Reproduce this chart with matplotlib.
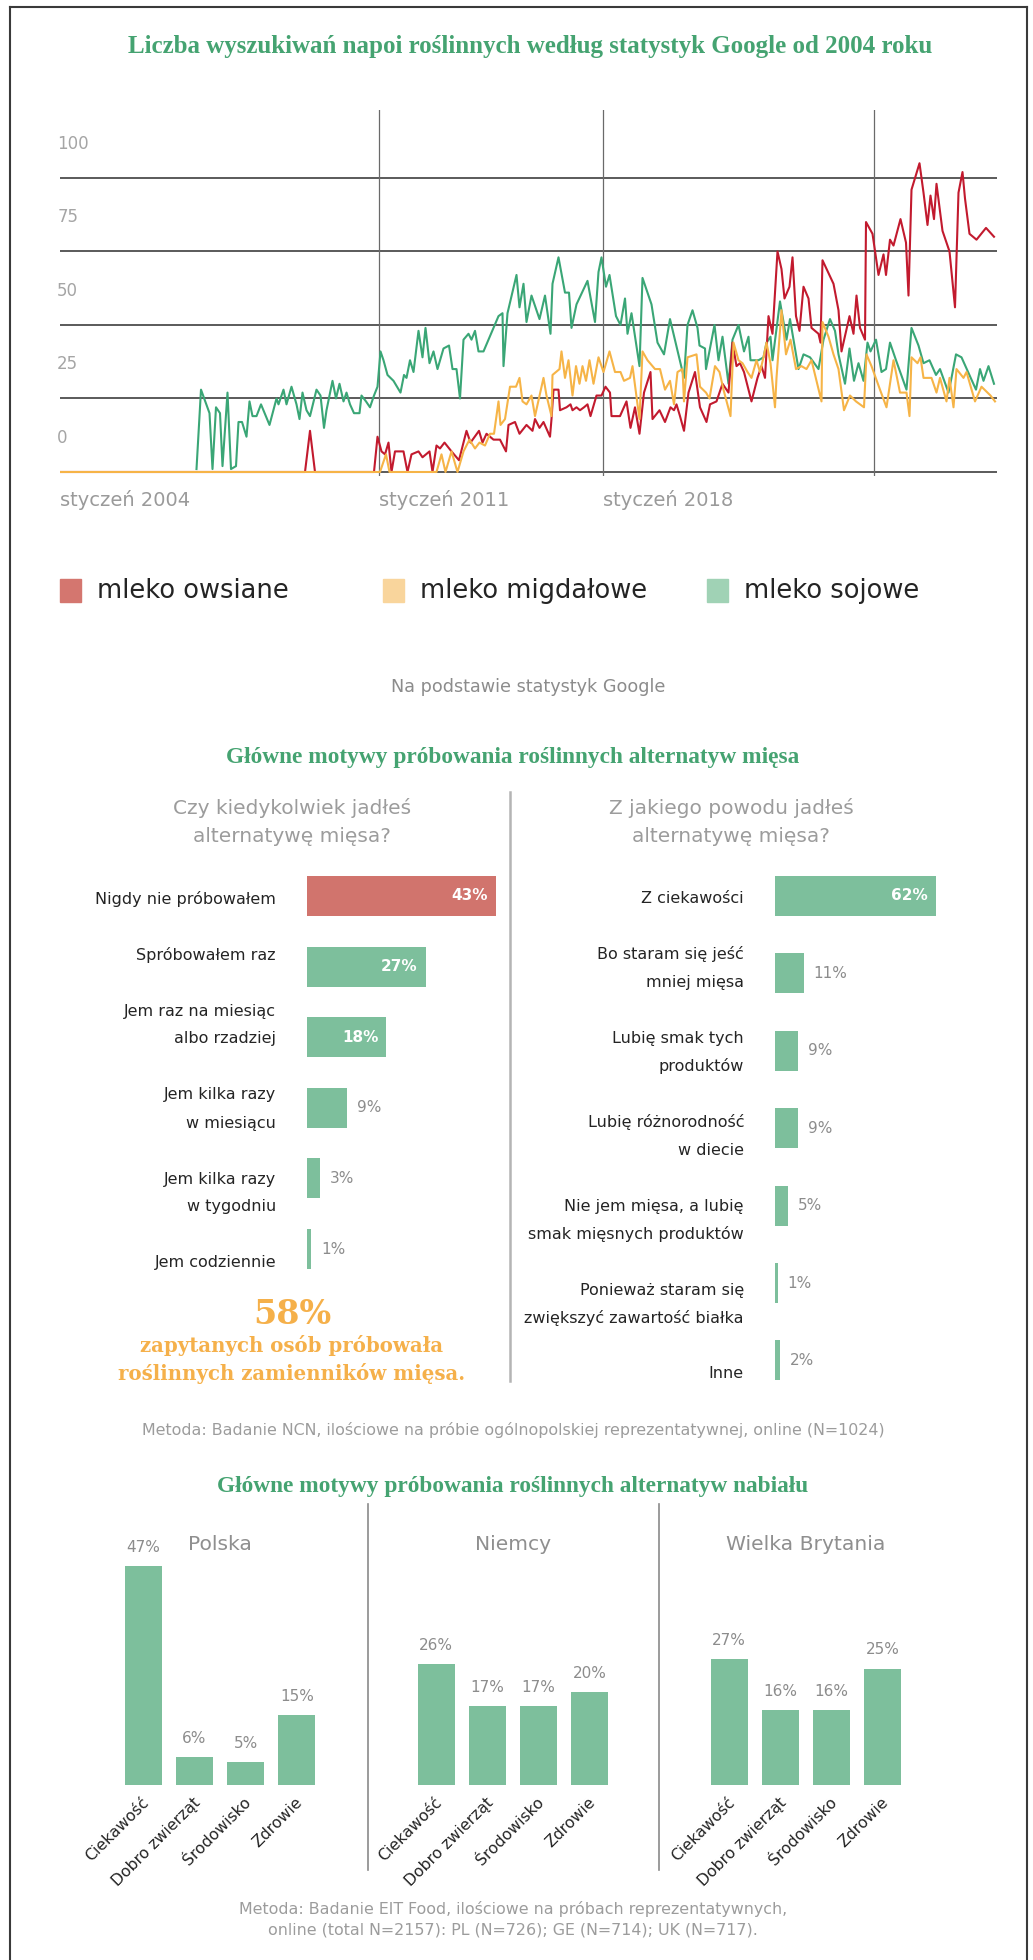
import matplotlib
matplotlib.use('Agg')
import matplotlib.pyplot as plt
from matplotlib.lines import Line2D
from matplotlib.patches import Rectangle
from matplotlib.transforms import ScaledTranslation, blended_transform_factory

# --- search trends (position along the time axis, search index) ---
green_t = [27.3, 28.2, 29.9, 30.5, 31.2, 32.0, 32.5, 33.5, 34.2, 35.2,
           35.7, 36.4, 37.3, 37.9, 38.5, 39.3, 40.2, 41.9, 43.0, 43.3,
           43.7, 44.7, 45.3, 46.3, 47.3, 47.9, 48.5, 49.3, 50.0, 51.3,
           52.1, 52.8, 53.3, 54.5, 55.2, 55.9, 56.7, 57.3, 58.0, 58.8,
           59.9, 60.3, 61.2, 62.0, 62.8, 63.5, 64.1, 64.7, 65.5, 66.7,
           68.1, 68.8, 69.3, 70.0, 70.7, 71.7, 72.5, 73.1, 73.9, 74.7,
           75.5, 76.7, 77.8, 78.5, 79.3, 80.0, 80.7, 81.7, 82.3, 83.0,
           83.7, 84.7, 87.7, 88.5, 88.7, 89.5, 91.3, 91.9, 92.7, 93.3,
           94.3, 95.3, 95.9, 97.0, 98.1, 98.5, 99.7, 101.0, 101.8, 102.3,
           103.3, 105.5, 107.0, 107.7, 108.3, 109.2, 109.9, 111.2, 112.1, 113.0,
           113.5, 114.3, 115.9, 116.5, 118.3, 119.5, 120.8, 122.0, 124.8, 125.5,
           126.5, 127.5, 127.9, 129.0, 129.2, 130.9, 131.7, 132.5, 133.7, 134.5,
           135.7, 136.8, 137.7, 138.1, 139.7, 140.7, 141.3, 142.1, 142.5, 144.0,
           145.3, 146.0, 146.7, 147.7, 148.7, 150.0, 151.7, 152.7, 154.0, 155.0,
           155.7, 157.0, 157.9, 158.8, 159.7, 160.7, 161.5, 162.1, 163.2, 164.3,
           165.2, 166.0, 167.2, 169.3, 170.3, 171.7, 172.7, 173.9, 175.2, 176.0,
           177.7, 178.3, 179.2, 180.3, 183.2, 184.0, 184.7, 185.7, 186.8]
green_v = [1, 28, 20, 1, 22, 20, 2, 27, 1, 2,
           17, 17, 12, 24, 19, 19, 23, 16, 23, 25,
           23, 28, 23, 29, 23, 18, 27, 21, 19, 28,
           26, 15, 21, 31, 25, 30, 24, 27, 23, 20,
           20, 26, 24, 22, 26, 29, 41, 38, 33, 31,
           27, 33, 32, 38, 34, 48, 39, 49, 37, 41,
           35, 42, 43, 35, 35, 25, 45, 47, 45, 48,
           41, 41, 53, 54, 36, 54, 67, 56, 64, 51,
           60, 55, 52, 60, 47, 64, 73, 61, 61, 49,
           57, 65, 51, 68, 73, 63, 67, 53, 50, 59,
           47, 54, 36, 66, 57, 44, 40, 52, 32, 50,
           55, 49, 43, 42, 35, 50, 38, 46, 30, 45,
           50, 41, 46, 38, 38, 39, 44, 46, 38, 58,
           45, 52, 45, 35, 40, 39, 35, 45, 52, 48,
           40, 30, 42, 31, 37, 31, 44, 41, 45, 34,
           35, 44, 38, 28, 49, 43, 37, 38, 33, 35,
           27, 32, 40, 39, 28, 35, 31, 36, 30]

red_t = [0, 49.0, 50.0, 51.0, 62.8, 63.5, 64.3, 65.0, 65.7, 66.3,
         67.0, 68.7, 69.5, 70.3, 71.7, 72.5, 73.9, 74.5, 75.3, 76.0,
         76.9, 78.3, 79.8, 81.3, 82.1, 83.8, 84.5, 85.3, 86.7, 88.0,
         89.2, 89.7, 91.0, 91.9, 93.3, 94.5, 95.0, 95.9, 96.7, 98.0,
         98.3, 98.7, 99.7, 100.0, 101.3, 102.1, 102.5, 103.3, 104.0, 104.8,
         105.5, 106.1, 107.3, 108.3, 109.1, 110.0, 110.3, 112.0, 113.3, 114.1,
         115.0, 115.9, 116.8, 118.1, 118.5, 119.9, 121.0, 122.1, 122.8, 123.3,
         124.0, 124.8, 125.7, 127.0, 128.0, 129.3, 130.0, 131.3, 132.5, 133.7,
         134.5, 135.3, 136.0, 136.8, 138.3, 139.5, 140.3, 141.0, 141.7, 142.5,
         143.5, 144.3, 144.9, 145.9, 146.5, 147.2, 147.9, 148.7, 149.7, 150.3,
         151.7, 152.1, 152.5, 154.7, 155.7, 156.3, 157.9, 158.7, 159.3, 160.0,
         161.0, 161.2, 162.5, 163.7, 164.7, 165.2, 166.0, 166.7, 168.1, 169.2,
         169.7, 170.3, 171.9, 172.7, 173.5, 174.1, 174.8, 175.3, 176.5, 177.9,
         179.0, 179.7, 180.5, 181.0, 181.9, 183.3, 185.2, 186.8]
red_v = [0, 0, 14, 0, 0, 12, 7, 6, 10, 0,
         7, 7, 0, 6, 7, 5, 7, 0, 9, 8,
         10, 7, 4, 14, 10, 14, 10, 13, 11, 11,
         7, 16, 17, 13, 16, 14, 18, 15, 17, 12,
         18, 28, 28, 21, 22, 23, 21, 22, 21, 22,
         23, 19, 26, 26, 29, 27, 19, 19, 24, 15,
         22, 13, 27, 34, 18, 21, 17, 22, 21, 23,
         19, 14, 27, 34, 22, 17, 23, 24, 30, 27,
         44, 36, 37, 34, 24, 32, 36, 32, 53, 47,
         75, 69, 59, 63, 73, 53, 48, 63, 59, 49,
         47, 44, 72, 64, 55, 41, 53, 47, 60, 49,
         45, 85, 81, 67, 74, 67, 79, 77, 86, 78,
         60, 96, 105, 95, 84, 94, 86, 98, 82, 75,
         56, 95, 102, 93, 81, 79, 83, 80]

orange_t = [0, 64.0, 65.2, 65.9, 75.3, 76.3, 77.1, 78.3, 79.5, 80.7,
            81.9, 83.0, 83.9, 85.0, 86.0, 86.8, 87.7, 88.1, 89.0, 90.0,
            91.2, 91.9, 92.5, 93.3, 94.3, 95.0, 96.7, 97.3, 98.3, 98.5,
            99.9, 100.3, 101.0, 101.7, 102.5, 103.2, 103.9, 104.5, 105.2, 105.9,
            106.7, 107.7, 108.7, 109.9, 111.0, 112.1, 112.8, 114.0, 114.5, 115.5,
            115.9, 116.5, 117.5, 119.0, 120.0, 121.0, 122.0, 122.8, 123.5, 124.5,
            124.8, 125.5, 127.3, 128.0, 129.2, 129.9, 131.0, 131.9, 132.7, 134.1,
            134.7, 135.7, 136.5, 137.5, 138.3, 139.3, 140.0, 140.7, 141.3, 142.1,
            143.0, 143.3, 144.3, 145.2, 146.1, 147.2, 148.3, 149.3, 150.3, 152.3,
            152.5, 153.7, 154.7, 155.7, 156.8, 158.0, 159.2, 160.8, 161.3, 162.3,
            164.0, 165.3, 166.7, 168.0, 169.3, 169.9, 170.3, 171.5, 172.1, 172.7,
            174.3, 175.3, 176.0, 177.3, 177.9, 178.7, 179.3, 180.7, 181.3, 183.0,
            184.3, 186.1, 187.0]
orange_v = [0, 0, 6, 0, 0, 6, 0, 7, 0, 7,
            11, 8, 10, 9, 13, 13, 24, 16, 18, 29,
            29, 32, 24, 23, 26, 19, 32, 26, 19, 33,
            35, 41, 32, 38, 26, 36, 30, 36, 31, 38,
            30, 39, 34, 41, 34, 34, 31, 32, 36, 23,
            18, 41, 38, 35, 35, 28, 31, 23, 34, 35,
            24, 39, 40, 29, 27, 25, 36, 34, 28, 19,
            44, 38, 37, 34, 32, 38, 34, 39, 44, 37,
            22, 32, 55, 40, 45, 35, 36, 35, 38, 24,
            51, 46, 40, 35, 21, 26, 24, 22, 40, 36,
            28, 22, 38, 27, 27, 19, 39, 37, 39, 32,
            32, 27, 32, 24, 32, 22, 35, 32, 34, 24,
            29, 26, 24]

y_ticks = [0, 25, 50, 75, 100]
x_ticks = [0, 63.8, 108.6, 162.8]
x_labels = ["styczeń 2004", "styczeń 2011", "styczeń 2018", ""]
legend_labels = ["mleko owsiane", "mleko migdałowe", "mleko sojowe"]

# --- meat alternatives survey ---
tried_labels = ["Nigdy nie próbowałem", "Spróbowałem raz",
                "Jem raz na miesiąc\nalbo rzadziej", "Jem kilka razy\nw miesiącu",
                "Jem kilka razy\nw tygodniu", "Jem codziennie"]
tried_vals = [43, 27, 18, 9, 3, 1]
reason_labels = ["Z ciekawości", "Bo staram się jeść\nmniej mięsa",
                 "Lubię smak tych\nproduktów", "Lubię różnorodność\nw diecie",
                 "Nie jem mięsa, a lubię\nsmak mięsnych produktów",
                 "Ponieważ staram się\nzwiększyć zawartość białka", "Inne"]
reason_vals = [62, 11, 9, 9, 5, 1, 2]

# --- dairy alternatives survey ---
countries = ["Polska", "Niemcy", "Wielka Brytania"]
dairy_reasons = ["Ciekawość", "Dobro zwierząt", "Środowisko", "Zdrowie"]
dairy_vals = [[47, 6, 5, 15], [26, 17, 17, 20], [27, 16, 16, 25]]

TITLE_GREEN = '#45a371'
RED_LINE = '#c21a2e'
ORANGE_LINE = '#f6b447'
GREEN_LINE = '#3aa676'
RED_BAR = '#d1746d'
GREEN_BAR = '#7dbf9c'
ORANGE_TEXT = '#f5b04a'
GRAY = '#8c8c8c'
LIGHT = '#9c9c9c'
DARK = '#242424'

W, H = 1033, 1960
fig = plt.figure(figsize=(W / 100, H / 100), dpi=100)


def fx(px):
    return px / W


def fy(py):
    return 1 - py / H


def box(x0, y0, x1, y1):
    return [x0 / W, 1 - y1 / H, (x1 - x0) / W, (y1 - y0) / H]


def ftext(px, py, s, **kw):
    kw.setdefault('ha', 'center')
    kw.setdefault('va', 'center')
    return fig.text(fx(px), fy(py), s, **kw)


def fline(xs, ys, **kw):
    fig.add_artist(Line2D([fx(x) for x in xs], [fy(y) for y in ys],
                          transform=fig.transFigure, **kw))


def label_block(labels, x_right, y_first, pitch=28):
    # labels flow as one text column, blank line between items
    row = 0
    for lab in labels:
        for part in lab.split('\n'):
            ftext(x_right, y_first + row * pitch, part, ha='right',
                  fontsize=11.5, color=DARK)
            row += 1
        row += 1


serif_title = dict(family='Liberation Serif', weight='bold', color=TITLE_GREEN)

# frame
fline([10, 10], [7, 1960], color='#3a3a3a', lw=1.5)
fline([1027, 1027], [7, 1960], color='#3a3a3a', lw=1.5)
fline([10, 1027], [7, 7], color='#3a3a3a', lw=1.5)

# ---------------- line chart ----------------
ftext(530, 47, "Liczba wyszukiwań napoi roślinnych według statystyk Google od 2004 roku",
      fontsize=18, **serif_title)

ax = fig.add_axes(box(60, 110, 997, 476.4))
ax.set_xlim(0, 187.4)
ax.set_ylim(-1.5, 123.1)
for v in y_ticks:
    ax.axhline(v, color='#5a5a5a', lw=1.4, zorder=1)
for t in x_ticks[1:]:
    ax.axvline(t, color='#6a6a6a', lw=0.9, zorder=1)

ax.plot(green_t, green_v, color=GREEN_LINE, lw=1.5, zorder=3)
ax.plot(red_t, red_v, color=RED_LINE, lw=1.5, zorder=3)
ax.plot(orange_t, orange_v, color=ORANGE_LINE, lw=1.5, zorder=4)

for s in ax.spines.values():
    s.set_visible(False)
ax.set_yticks([])
ax.set_xticks(x_ticks)
ax.set_xticklabels(x_labels, ha='left', fontsize=14, color='#9a9a9a')
ax.tick_params(axis='x', length=0, pad=10)

ylab_tr = blended_transform_factory(ax.transAxes, ax.transData) + \
    ScaledTranslation(0, 0.34, fig.dpi_scale_trans)
for v in y_ticks:
    ax.text(-0.003, v, str(v), transform=ylab_tr, ha='left', va='center',
            fontsize=12, color='#a5a5a5')

# legend
legend_colors = ['#d4766f', '#f9d59c', '#a0d2b5']
for lab, col, x in zip(legend_labels, legend_colors, [60, 383, 707]):
    fig.add_artist(Rectangle((fx(x), fy(602)), 21 / W, 23 / H,
                             transform=fig.transFigure, color=col))
    ftext(x + 37, 591, lab, ha='left', fontsize=18.5, color=DARK)

ftext(528, 687, "Na podstawie statystyk Google", fontsize=12.7, color=GRAY)

# ---------------- meat alternatives ----------------
ftext(513, 757, "Główne motywy próbowania roślinnych alternatyw mięsa",
      fontsize=16.8, **serif_title)

ftext(292, 808, "Czy kiedykolwiek jadłeś", fontsize=14.5, color=LIGHT)
ftext(292, 836, "alternatywę mięsa?", fontsize=14.5, color=LIGHT)
ftext(731, 808, "Z jakiego powodu jadłeś", fontsize=14.5, color=LIGHT)
ftext(731, 836, "alternatywę mięsa?", fontsize=14.5, color=LIGHT)

fline([510, 510], [792, 1381], color='#b4b4b4', lw=1.8)


def hbars(ax, vals, colors, height):
    ax.barh(range(len(vals)), vals, height=height, color=colors)
    for i, v in enumerate(vals):
        if v >= 15:
            ax.annotate(f"{v}%", (v, i), xytext=(-8, 0), textcoords='offset pixels',
                        ha='right', va='center', fontsize=11, weight='bold',
                        color='white')
        else:
            ax.annotate(f"{v}%", (v, i), xytext=(10, 0), textcoords='offset pixels',
                        ha='left', va='center', fontsize=11, color=GRAY)
    ax.axis('off')


ax1 = fig.add_axes(box(307, 860.7, 527, 1284.3))
hbars(ax1, tried_vals, [RED_BAR] + [GREEN_BAR] * 5, 0.567)
ax1.set_xlim(0, 50)
ax1.set_ylim(5.5, -0.5)
label_block(tried_labels, 276, 899)

ax2 = fig.add_axes(box(775, 857.3, 1009, 1399.1))
hbars(ax2, reason_vals, GREEN_BAR, 0.517)
ax2.set_xlim(0, 90)
ax2.set_ylim(6.5, -0.5)
label_block(reason_labels, 744, 898)

orange_serif = dict(family='DejaVu Serif', weight='bold', color=ORANGE_TEXT)
ftext(292, 1314, "58%", fontsize=24, **orange_serif)
ftext(292, 1345, "zapytanych osób próbowała", fontsize=14.2, **orange_serif)
ftext(292, 1374, "roślinnych zamienników mięsa.", fontsize=14.2, **orange_serif)

ftext(513, 1430, "Metoda: Badanie NCN, ilościowe na próbie ogólnopolskiej "
      "reprezentatywnej, online (N=1024)", fontsize=11.4, color=LIGHT)

# ---------------- dairy alternatives ----------------
ftext(513, 1486, "Główne motywy próbowania roślinnych alternatyw nabiału",
      fontsize=16.8, **serif_title)

for x in [367.5, 659]:
    fline([x, x], [1504, 1870], color='#8a8a8a', lw=1.2)

shift = ScaledTranslation(-0.02, 0, fig.dpi_scale_trans)
for g, (country, vals) in enumerate(zip(countries, dairy_vals)):
    left = 117.4 + 293 * g
    axg = fig.add_axes(box(left, 1552, left + 205.2, 1785))
    bars = axg.bar(range(len(vals)), vals, width=0.72, color=GREEN_BAR)
    axg.bar_label(bars, labels=[f"{v}%" for v in vals], padding=8,
                  fontsize=11, color=GRAY)
    axg.set_xlim(-0.5, 3.5)
    axg.set_ylim(0, 50)
    for s in axg.spines.values():
        s.set_visible(False)
    axg.set_yticks([])
    axg.set_xticks(range(len(dairy_reasons)))
    axg.set_xticklabels(dairy_reasons, rotation=45, ha='right',
                        rotation_mode='anchor', fontsize=11.3, color=DARK)
    axg.tick_params(axis='x', length=0, pad=7)
    for lbl in axg.get_xticklabels():
        lbl.set_transform(lbl.get_transform() + shift)
    ftext(left + 102.6, 1545, country, fontsize=14.6, color='#8f8f8f')

ftext(513, 1909, "Metoda: Badanie EIT Food, ilościowe na próbach reprezentatywnych,",
      fontsize=11.4, color=LIGHT)
ftext(513, 1929.5, "online (total N=2157): PL (N=726); GE (N=714); UK (N=717).",
      fontsize=11.4, color=LIGHT)

fig.savefig('out.png', dpi=100)
